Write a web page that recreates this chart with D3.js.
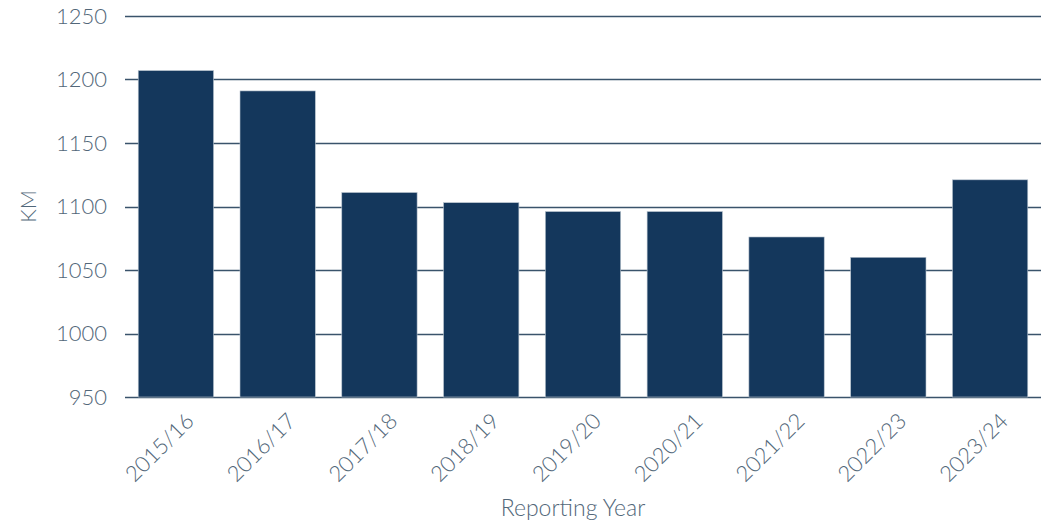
<!DOCTYPE html>
<html>
<head>
<meta charset="utf-8">
<script src="https://cdn.jsdelivr.net/npm/d3@7"></script>
<style>
  body { margin: 0; background: #fff; }
  text { font-family: Lato, "Open Sans", sans-serif; font-weight: 300; fill: #526779; }
</style>
</head>
<body>
<script>
var years = ["2015/16", "2016/17", "2017/18", "2018/19", "2019/20", "2020/21", "2021/22", "2022/23", "2023/24"];
var km = [1207, 1191, 1111, 1103, 1096, 1096, 1076, 1060, 1121];
var yTicks = [950, 1000, 1050, 1100, 1150, 1200, 1250];

var width = 1050, height = 523;
var plotLeft = 125, plotRight = 1041, plotTop = 16, plotBottom = 397;

var svg = d3.select("body").append("svg")
    .attr("width", width)
    .attr("height", height);

var x = d3.scaleBand()
    .domain(years)
    .range([plotLeft, plotRight])
    .paddingInner(0.26)
    .paddingOuter(0.13);

var y = d3.scaleLinear()
    .domain([950, 1250])
    .range([plotBottom, plotTop]);

// gridlines
svg.append("g")
  .selectAll("line")
  .data(yTicks)
  .enter().append("line")
    .attr("x1", plotLeft)
    .attr("x2", plotRight)
    .attr("y1", function(d) { return Math.round(y(d)) + 0.5; })
    .attr("y2", function(d) { return Math.round(y(d)) + 0.5; })
    .style("stroke", "#3a536b")
    .style("stroke-width", "1.3px");

// y labels
svg.append("g")
  .selectAll("text")
  .data(yTicks)
  .enter().append("text")
    .attr("x", 107)
    .attr("y", function(d) { return y(d); })
    .attr("dy", "0.35em")
    .attr("text-anchor", "end")
    .style("font-size", "22px")
    .text(function(d) { return d; });

// bars
svg.append("g")
  .selectAll("rect")
  .data(km)
  .enter().append("rect")
    .attr("x", function(d, i) { return x(years[i]); })
    .attr("y", function(d) { return y(d); })
    .attr("width", x.bandwidth())
    .attr("height", function(d) { return plotBottom - y(d); })
    .style("fill", "#14375c")
    .style("stroke", "#b8c3ce")
    .style("stroke-width", "0.6px");

// x labels
svg.append("g")
  .selectAll("text")
  .data(years)
  .enter().append("text")
    .attr("transform", function(d) {
      return "translate(" + (x(d) + x.bandwidth() / 2 + 14) + "," + (plotBottom + 20) + ") rotate(-45)";
    })
    .attr("text-anchor", "end")
    .attr("dy", "0.35em")
    .style("font-size", "22px")
    .text(function(d) { return d; });

svg.append("text")
    .attr("x", 573)
    .attr("y", 516)
    .attr("text-anchor", "middle")
    .style("font-size", "23px")
    .text("Reporting Year");

svg.append("text")
    .attr("transform", "translate(36," + y(1100) + ") rotate(-90)")
    .attr("text-anchor", "middle")
    .style("font-size", "21px")
    .text("KM");
</script>
</body>
</html>
